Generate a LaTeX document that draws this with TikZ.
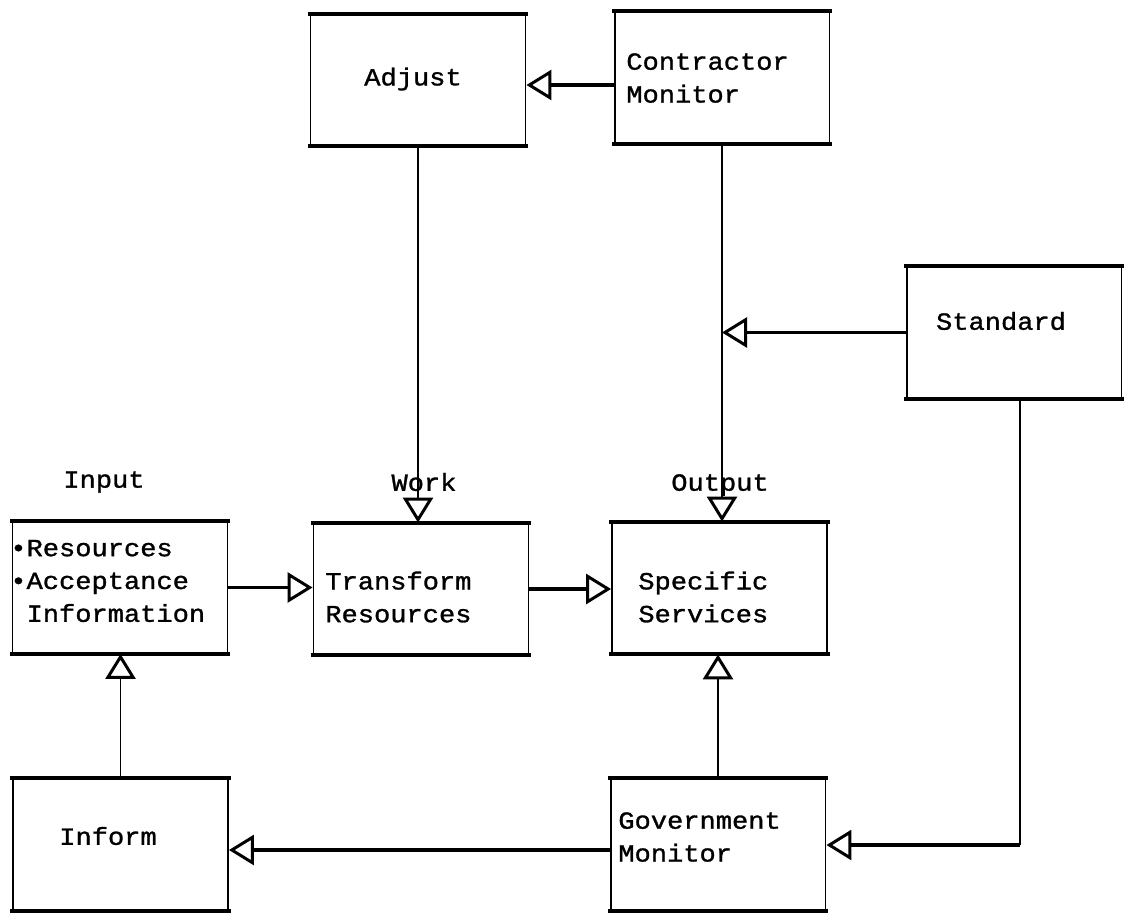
\documentclass[tikz,border=0pt]{standalone}
\usepackage{fontspec}
\newfontfamily\tw[FakeStretch=1.1,FakeBold=1.2]{Liberation Mono}
\usetikzlibrary{arrows.meta}
\begin{document}
\begin{tikzpicture}[x=0.02cm,y=-0.02cm,
  box/.style={draw, line width=1.1pt, inner sep=0pt,
    minimum width=4.3cm, minimum height=2.62cm},
  edge/.style={line width=2.3pt, line cap=rect},
  txt/.style={font=\tw\fontsize{14}{18.7}\selectfont, inner sep=0pt, align=left},
  tip/.style={-{Triangle[open, length=0.5cm, width=0.6cm, line width=1.7pt]}},
  hconn/.style={tip, line width=2.2pt},
  vconn/.style={tip, line width=1pt},
  plain/.style={line width=1pt}
]
\useasboundingbox[fill=white] (0,0) rectangle (1124,912);

% boxes
\node[box] (adjust)     at (418,80)    {};
\node[box] (contractor) at (722,77.5)  {};
\node[box] (standard)   at (1014,332.5){};
\node[box] (input)      at (120,587.5) {};
\node[box] (transform)  at (421,589)   {};
\node[box] (specific)   at (719.5,588) {};
\node[box] (inform)     at (120.5,844.5){};
\node[box] (gov)        at (718,844.5) {};

% heavier top and bottom rules of every box
\foreach \n in {adjust,contractor,standard,input,transform,specific,inform,gov}
  \draw[edge] (\n.north west) -- (\n.north east)
              (\n.south west) -- (\n.south east);

% box texts
\node[txt] (adjust-t) at (413,79) {Adjust};
\node[txt, anchor=west] (contractor-t) at (626,78) {Contractor\\Monitor};
\node[txt] (standard-t) at (1001,321) {Standard};
\node[txt, anchor=west] (input-t) at (10,581)
  {•Resources\\•Acceptance\\\phantom{•}Information};
\node[txt, anchor=west] (transform-t) at (325,597) {Transform\\Resources};
\node[txt, anchor=west] (specific-t) at (638,597) {Specific\\Services};
\node[txt] (inform-t) at (108,836) {Inform};
\node[txt, anchor=west] (gov-t) at (618,837) {Government\\Monitor};

% stream labels
\node[txt] (input-l)  at (104,482) {Input};
\node[txt] (work-l)   at (424,482) {Work};
\node[txt] (output-l) at (720,485) {Output};

% connectors
\path ([yshift=-0.15cm]contractor.west) coordinate (ca);
\draw[hconn] (ca) -- (ca -| adjust.east);
\draw[vconn] (adjust.south) -- (adjust.south |- transform.north);
\draw[vconn] (contractor.south) -- (contractor.south |- specific.north);
\draw[hconn] (standard.west) -- (standard.west -| contractor.south);
\draw[hconn] (input.east) -- (input.east -| transform.west);
\draw[hconn] (transform.east) -- (transform.east -| specific.west);
\draw[vconn] (inform.north) -- (inform.north |- input.south);
\draw[vconn] (gov.north) -- (gov.north |- specific.south);
\path ([yshift=-0.11cm]gov.west) coordinate (gi);
\draw[hconn] (gi) -- (gi -| inform.east);
\coordinate (sd) at (1020,845);
\draw[plain] (standard.south -| sd) -- (sd);
\draw[hconn] (sd) -- (sd -| gov.east);
\end{tikzpicture}
\end{document}
